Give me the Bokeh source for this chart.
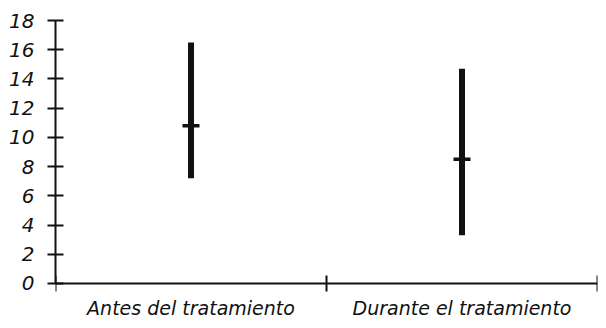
from bokeh.plotting import figure
from bokeh.models import Range1d, FixedTicker, ColumnDataSource, LinearAxis
from bokeh.core.properties import value
from bokeh.embed import file_html
from bokeh.resources import INLINE

categories = ["Antes del tratamiento", "Durante el tratamiento"]
highs = [16.5, 14.7]
lows = [7.2, 3.3]
means = [10.8, 8.5]
y_ticks = [0, 2, 4, 6, 8, 10, 12, 14, 16, 18]

xpos = [i + 0.5 for i in range(len(categories))]
src = ColumnDataSource(dict(x=xpos, high=highs, low=lows, mean=means))
lab = ColumnDataSource(dict(x=xpos, y=[0] * len(categories), text=categories))

# y=18 at 20px, y=0 at 283px, frame bottom at 320px -> extend range below 0
p = figure(width=598, height=320, output_backend="svg", toolbar_location=None,
           x_range=Range1d(0, len(categories)), y_range=Range1d(-37 / 14.611, 18),
           x_axis_location=None,
           min_border_left=55, min_border_right=1, min_border_top=20, min_border_bottom=0)
p.outline_line_color = None
p.xgrid.grid_line_color = None
p.ygrid.grid_line_color = None
p.background_fill_color = "white"

ink = "#111111"
font = "DejaVu Sans"

p.segment(x0="x", y0="low", x1="x", y1="high", source=src, line_width=6,
          line_color=ink, line_cap="butt")
p.scatter(x="x", y="mean", source=src, marker="dash", size=17, line_width=3.5,
          line_color=ink)
p.text(x="x", y="y", text="text", source=lab, y_offset=25, text_align="center",
       text_baseline="middle", text_font=value(font), text_font_style="italic",
       text_font_size="19px", text_color=ink)

ya = p.yaxis[0]
ya.bounds = (0, 18)
ya.ticker = FixedTicker(ticks=y_ticks, minor_ticks=[])
ya.major_tick_in = 8
ya.major_tick_out = 8
ya.major_tick_line_width = 2
ya.axis_line_width = 2
ya.axis_line_color = ink
ya.major_tick_line_color = ink
ya.major_label_text_font = font
ya.major_label_text_font_style = "italic"
ya.major_label_text_font_size = "20px"
ya.major_label_text_color = ink
ya.major_label_standoff = 13

xa = LinearAxis(fixed_location=0,
                ticker=FixedTicker(ticks=[], minor_ticks=list(range(len(categories) + 1))))
xa.major_tick_in = 0
xa.major_tick_out = 0
xa.minor_tick_in = 8
xa.minor_tick_out = 8
xa.minor_tick_line_width = 2
xa.minor_tick_line_color = ink
xa.axis_line_width = 2
xa.axis_line_color = ink
xa.major_label_text_font_size = "0px"
xa.major_label_standoff = 0
p.add_layout(xa, "above")

open("out.html", "w").write(file_html(p, INLINE))
